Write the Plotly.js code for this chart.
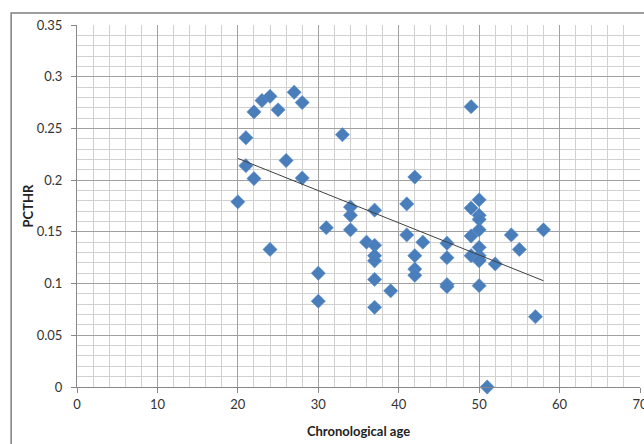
<!DOCTYPE html>
<html><head><meta charset="utf-8">
<script src="https://cdn.plot.ly/plotly-3.0.1.min.js"></script>
<style>html,body{margin:0;padding:0;background:#fff;}#chart{width:644px;height:444px;}</style>
</head><body><div id="chart"></div>
<script>
const ages = [20,21,21,22,22,23,24,24,25,26,27,28,28,30,30,31,33,34,34,34,36,37,37,37,37,37,37,39,41,41,42,42,42,42,43,46,46,46,46,49,49,49,49,50,50,50,50,50,50,50,50,50,51,52,54,55,57,58];
const pcthr = [0.179,0.241,0.214,0.266,0.2015,0.277,0.281,0.133,0.268,0.219,0.285,0.275,0.202,0.110,0.083,0.154,0.244,0.174,0.166,0.152,0.140,0.171,0.137,0.127,0.122,0.104,0.077,0.093,0.177,0.147,0.203,0.127,0.114,0.108,0.140,0.139,0.125,0.099,0.097,0.271,0.173,0.146,0.127,0.181,0.166,0.162,0.152,0.135,0.127,0.123,0.122,0.098,0.0,0.119,0.147,0.133,0.068,0.152];
const trendX = [20, 58];
const trendY = [0.221, 0.1027];

const data = [
  {x: ages, y: pcthr, type: 'scatter', mode: 'markers',
   marker: {symbol: 'diamond', size: 11, color: '#4a7ebb', line: {color: '#5a8fcc', width: 0.5}},
   cliponaxis: false, showlegend: false},
  {x: trendX, y: trendY, type: 'scatter', mode: 'lines',
   line: {color: '#404040', width: 1}, showlegend: false}
];
const font = {family: 'Lato, "Open Sans", sans-serif', size: 13, color: '#222'};
const layout = {
  width: 644, height: 444,
  margin: {l: 77, r: 4, t: 25, b: 57},
  paper_bgcolor: 'rgba(0,0,0,0)', plot_bgcolor: '#fff',
  font: font,
  xaxis: {range: [0, 70], dtick: 10, tick0: 0, showgrid: true, gridcolor: '#a0a0a0', gridwidth: 1,
    minor: {dtick: 2, showgrid: true, gridcolor: '#d0d0d0', gridwidth: 1},
    zeroline: false, showline: true, linecolor: '#888', linewidth: 1,
    ticks: 'outside', ticklen: 5, tickcolor: '#888', tickfont: {size: 13, color: '#333'},
    ticklabeloverflow: 'allow',
    title: {text: 'Chronological age', font: {size: 13, color: '#222', family: 'Lato, sans-serif', weight: 'bold'}, standoff: 16}},
  yaxis: {range: [0, 0.35], dtick: 0.05, tick0: 0, showgrid: true, gridcolor: '#a0a0a0', gridwidth: 1,
    minor: {dtick: 0.01, showgrid: true, gridcolor: '#d0d0d0', gridwidth: 1},
    zeroline: false, showline: true, linecolor: '#888', linewidth: 1,
    ticks: 'outside', ticklen: 5, tickcolor: '#888', tickfont: {size: 13, color: '#333'},
    ticklabelstandoff: 6,
    title: {text: 'PCTHR', font: {size: 13, color: '#222', family: 'Lato, sans-serif', weight: 'bold'}, standoff: 0}},
  shapes: [{type: 'rect', xref: 'paper', yref: 'paper', x0: -0.117, x1: 1.2, y0: -0.3, y1: 1.033,
    line: {color: '#7f7f7f', width: 1.5}, layer: 'below'}]
};
Plotly.newPlot('chart', data, layout, {displayModeBar: false, staticPlot: true});
</script></body></html>
